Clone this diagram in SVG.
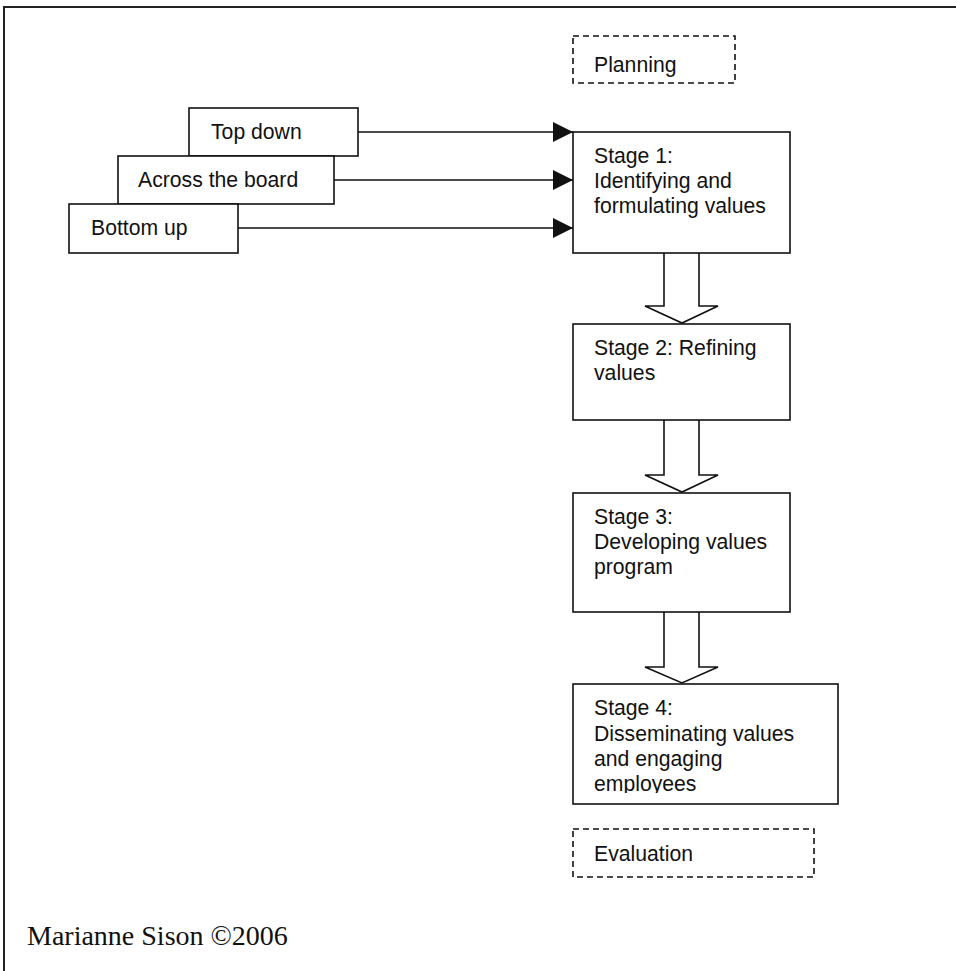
<svg xmlns="http://www.w3.org/2000/svg" width="956" height="971" viewBox="0 0 956 971">
  <style>
    .box { fill: #ffffff; stroke: #111111; stroke-width: 1.6; }
    .dash { fill: none; stroke: #111111; stroke-width: 1.6; stroke-dasharray: 6 4; }
    .lbl { font-family: "Liberation Sans", Arial, Helvetica, sans-serif; font-size: 21.2px; fill: #111111; }
    .line { stroke: #111111; stroke-width: 1.6; fill: none; }
    .hollow { fill: #ffffff; stroke: #111111; stroke-width: 1.6; stroke-linejoin: miter; }
    .credit { font-family: "Liberation Serif", "Times New Roman", serif; font-size: 28px; fill: #111111; }
  </style>
  <defs>
    <marker id="solidHead" viewBox="0 0 20 20" refX="20" refY="10" markerWidth="20" markerHeight="20" markerUnits="userSpaceOnUse" orient="auto">
      <path d="M0,0 L20,10 L0,20 Z" fill="#111111"/>
    </marker>
    <clipPath id="stage4Clip">
      <rect x="573" y="684" width="265" height="109"/>
    </clipPath>
  </defs>

  <rect width="956" height="971" fill="#ffffff"/>

  <!-- page frame: left and top edges -->
  <path d="M4,971 L4,7 L956,7" fill="none" stroke="#222222" stroke-width="2"/>

  <!-- connectors -->
  <g id="connectors">
    <line class="line" x1="358" y1="132" x2="573" y2="132" marker-end="url(#solidHead)"/>
    <line class="line" x1="334" y1="180" x2="573" y2="180" marker-end="url(#solidHead)"/>
    <line class="line" x1="238" y1="228" x2="573" y2="228" marker-end="url(#solidHead)"/>
    <path class="hollow" d="M664,253 L664,306 L645,306 L682,323 L718,306 L699,306 L699,253"/>
    <path class="hollow" d="M664,420 L664,475 L645,475 L682,492 L718,475 L699,475 L699,420"/>
    <path class="hollow" d="M664,612 L664,667 L645,667 L682,683 L718,667 L699,667 L699,612"/>
  </g>

  <g id="planning">
    <rect class="dash" x="573" y="36" width="162" height="47"/>
    <text class="lbl" x="594" y="72">Planning</text>
  </g>

  <g id="top-down">
    <rect class="box" x="189" y="108" width="169" height="48"/>
    <text class="lbl" x="211" y="139">Top down</text>
  </g>

  <g id="across-the-board">
    <rect class="box" x="118" y="156" width="216" height="48"/>
    <text class="lbl" x="138" y="187">Across the board</text>
  </g>

  <g id="bottom-up">
    <rect class="box" x="69" y="204" width="169" height="49"/>
    <text class="lbl" x="91" y="235">Bottom up</text>
  </g>

  <g id="stage-1">
    <rect class="box" x="573" y="132" width="217" height="121"/>
    <text class="lbl" x="594" y="163">Stage 1:</text>
    <text class="lbl" x="594" y="188">Identifying and</text>
    <text class="lbl" x="594" y="213">formulating values</text>
  </g>

  <g id="stage-2">
    <rect class="box" x="573" y="324" width="217" height="96"/>
    <text class="lbl" x="594" y="355">Stage 2: Refining</text>
    <text class="lbl" x="594" y="380">values</text>
  </g>

  <g id="stage-3">
    <rect class="box" x="573" y="493" width="217" height="119"/>
    <text class="lbl" x="594" y="524">Stage 3:</text>
    <text class="lbl" x="594" y="549">Developing values</text>
    <text class="lbl" x="594" y="574">program</text>
  </g>

  <g id="stage-4">
    <rect class="box" x="573" y="684" width="265" height="120"/>
    <g clip-path="url(#stage4Clip)">
      <text class="lbl" x="594" y="715">Stage 4:</text>
      <text class="lbl" x="594" y="741">Disseminating values</text>
      <text class="lbl" x="594" y="766">and engaging</text>
      <text class="lbl" x="594" y="791">employees</text>
    </g>
  </g>

  <g id="evaluation">
    <rect class="dash" x="573" y="829" width="241" height="48"/>
    <text class="lbl" x="594" y="861">Evaluation</text>
  </g>

  <text class="credit" x="27" y="945">Marianne Sison ©2006</text>
</svg>
